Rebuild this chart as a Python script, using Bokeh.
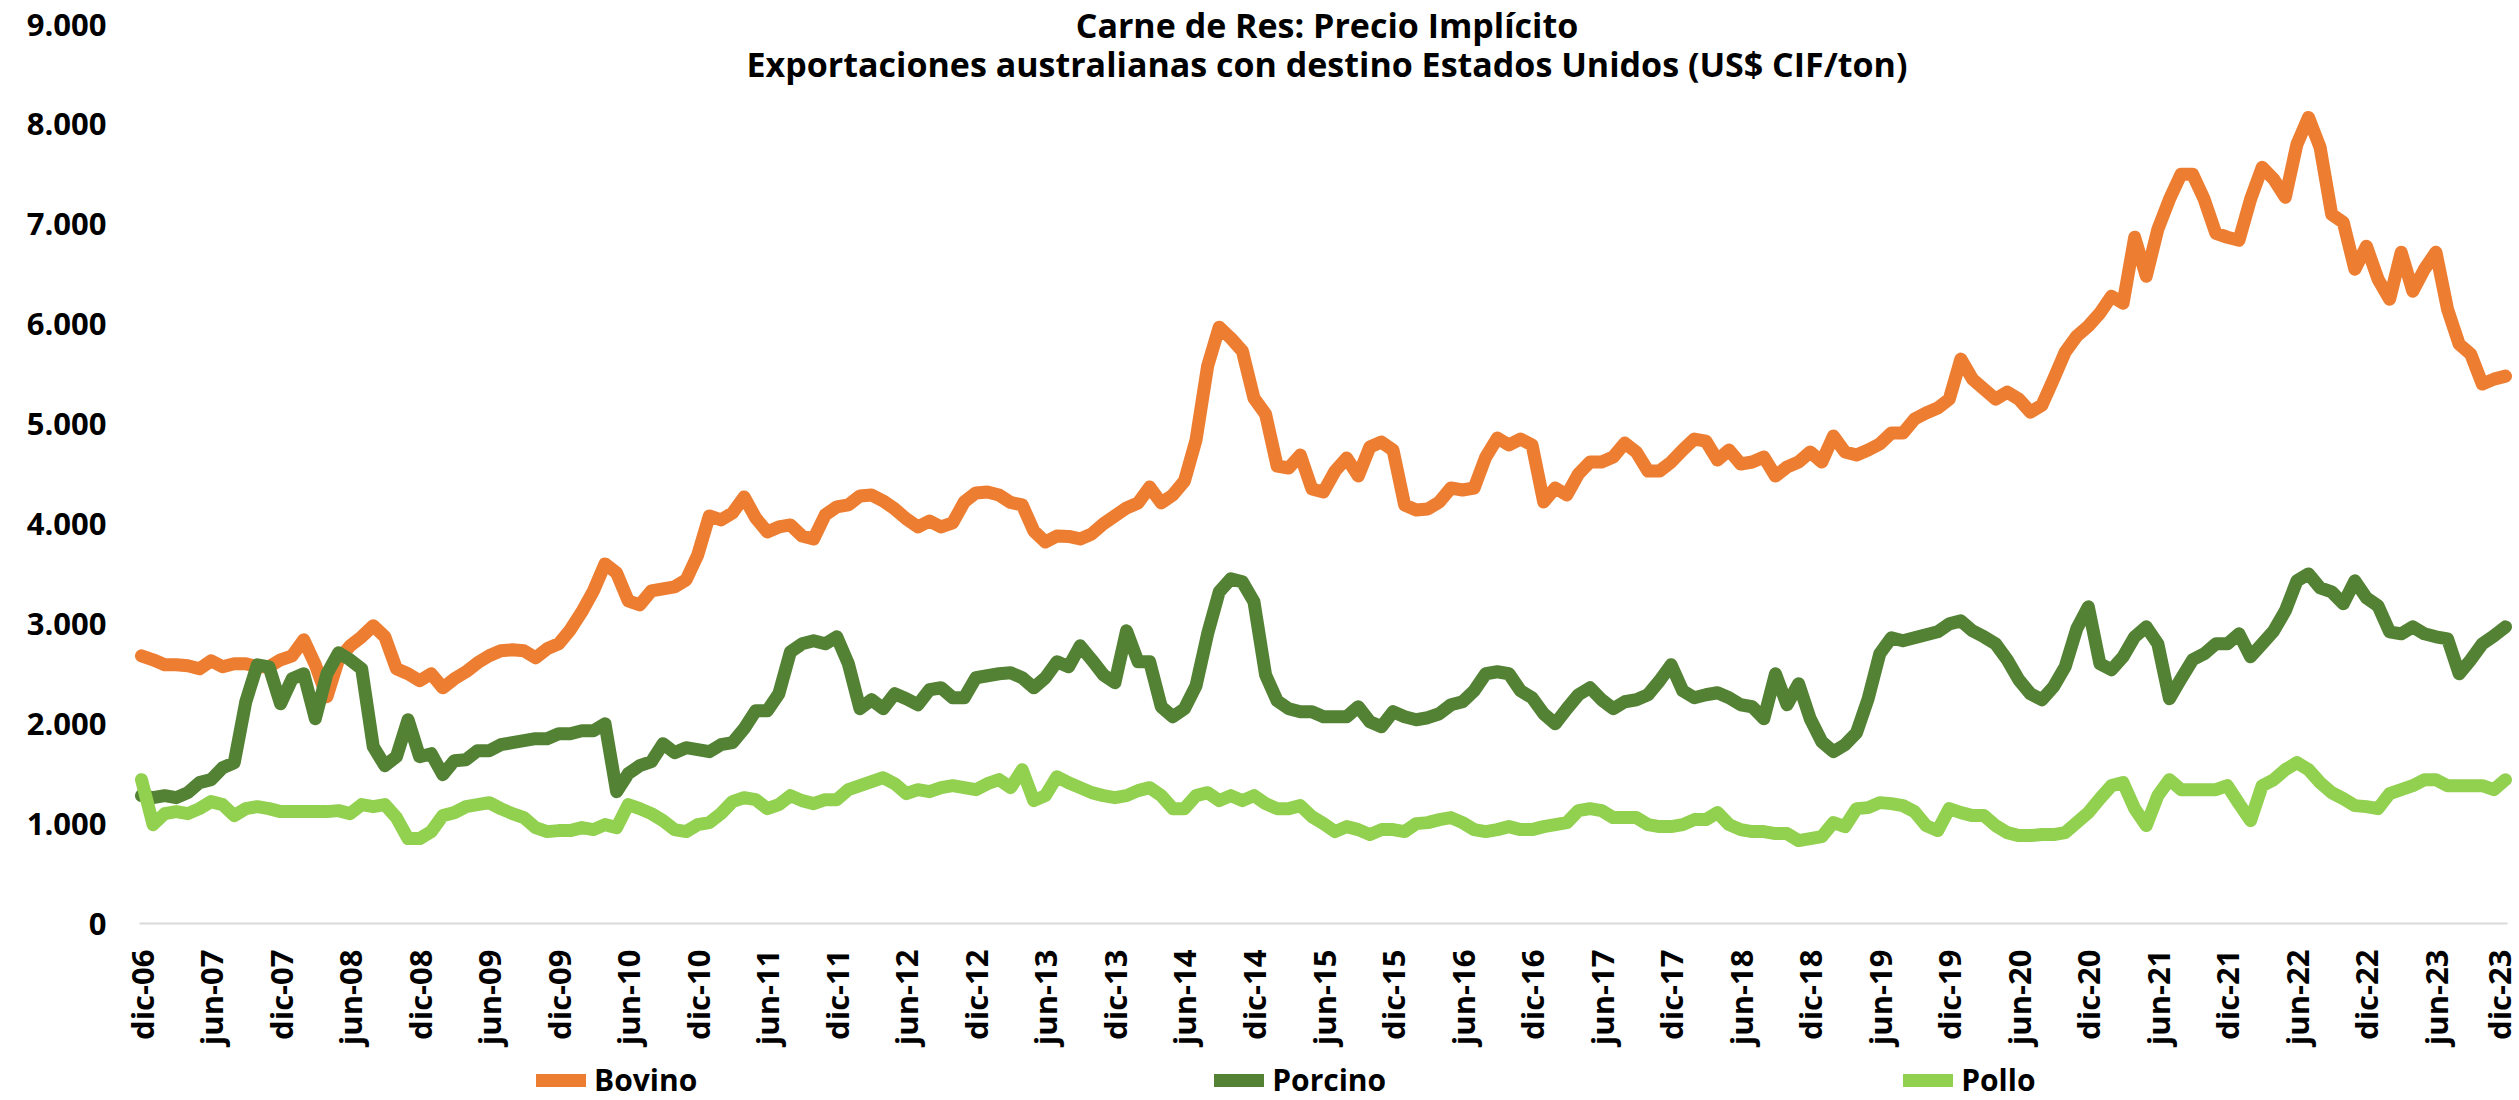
from math import pi
from bokeh.plotting import figure
from bokeh.models import (Range1d, FixedTicker, CustomJSTickFormatter, Legend,
                          LegendItem, Label)
from bokeh.embed import file_html
from bokeh.resources import INLINE

TITLE_1 = "Carne de Res: Precio Implícito"
TITLE_2 = "Exportaciones australianas con destino Estados Unidos (US$ CIF/ton)"

TICK_LABELS = ["dic-06", "jun-07", "dic-07", "jun-08", "dic-08", "jun-09", "dic-09",
               "jun-10", "dic-10", "jun-11", "dic-11", "jun-12", "dic-12", "jun-13",
               "dic-13", "jun-14", "dic-14", "jun-15", "dic-15", "jun-16", "dic-16",
               "jun-17", "dic-17", "jun-18", "dic-18", "jun-19", "dic-19", "jun-20",
               "dic-20", "jun-21", "dic-21", "jun-22", "dic-22", "jun-23", "dic-23"]

SERIES_NAMES = ["Bovino", "Porcino", "Pollo"]

BOVINO = [2680, 2640, 2590, 2590, 2580, 2550, 2630, 2570, 2600, 2600,
          2570, 2570, 2640, 2680, 2840, 2590, 2270, 2640, 2780, 2870,
          2980, 2870, 2550, 2500, 2430, 2500, 2360, 2450, 2520, 2610,
          2680, 2730, 2740, 2730, 2660, 2750, 2800, 2940, 3120, 3330,
          3600, 3510, 3230, 3190, 3330, 3350, 3370, 3440, 3690, 4080,
          4040, 4110, 4270, 4060, 3920, 3970, 3990, 3880, 3850, 4090,
          4170, 4190, 4280, 4290, 4230, 4150, 4050, 3970, 4030, 3970,
          4010, 4220, 4310, 4320, 4290, 4215, 4190, 3930, 3820, 3880,
          3875, 3850, 3900, 4000, 4080, 4160, 4210, 4370, 4210, 4290,
          4430, 4840, 5580, 5970, 5860, 5730, 5260, 5100, 4580, 4560,
          4690, 4350, 4320, 4530, 4660, 4480, 4770, 4820, 4740, 4190,
          4140, 4150, 4220, 4360, 4340, 4360, 4670, 4860, 4790, 4850,
          4790, 4220, 4360, 4290, 4500, 4620, 4620, 4670, 4810, 4720,
          4530, 4530, 4620, 4740, 4850, 4830, 4640, 4740, 4600, 4620,
          4670, 4480, 4570, 4620, 4720, 4620, 4880, 4720, 4690, 4740,
          4800, 4910, 4910, 5050, 5110, 5160, 5250, 5650, 5450, 5350,
          5250, 5320, 5250, 5120, 5190, 5450, 5720, 5880, 5980, 6110,
          6280, 6210, 6870, 6480, 6950, 7250, 7500, 7500, 7250, 6910,
          6870, 6840, 7250, 7570, 7450, 7270, 7800, 8070, 7770, 7100,
          7020, 6550, 6780, 6450, 6250, 6720, 6330, 6550, 6720, 6150,
          5800, 5700, 5400, 5450, 5480]

PORCINO = [1280, 1260, 1280, 1260, 1310, 1410, 1440, 1560, 1610, 2220,
           2590, 2570, 2200, 2450, 2500, 2050, 2500, 2710, 2640, 2550,
           1770, 1580, 1670, 2040, 1670, 1700, 1490, 1630, 1640, 1730,
           1730, 1790, 1810, 1830, 1850, 1850, 1900, 1900, 1930, 1930,
           2000, 1320, 1500, 1580, 1620, 1800, 1710, 1760, 1740, 1720,
           1790, 1810, 1950, 2130, 2130, 2300, 2720, 2800, 2830, 2800,
           2870, 2600, 2150, 2240, 2150, 2300, 2250, 2190, 2340, 2360,
           2260, 2260, 2460, 2480, 2500, 2510, 2460, 2360, 2460, 2620,
           2570, 2780, 2640, 2490, 2410, 2930, 2620, 2620, 2170, 2070,
           2150, 2380, 2900, 3320, 3450, 3420, 3220, 2490, 2230, 2150,
           2120, 2120, 2070, 2070, 2070, 2170, 2020, 1970, 2120, 2070,
           2040, 2060, 2100, 2190, 2220, 2330, 2500, 2520, 2500, 2330,
           2260, 2100, 2000, 2150, 2290, 2360, 2240, 2150, 2220, 2240,
           2290, 2430, 2590, 2330, 2260, 2290, 2310, 2260, 2190, 2170,
           2050, 2500, 2190, 2400, 2050, 1820, 1720, 1790, 1910, 2250,
           2700, 2860, 2830, 2860, 2890, 2920, 3000, 3030, 2930, 2870,
           2800, 2640, 2440, 2300, 2240, 2370, 2570, 2950, 3170, 2600,
           2540, 2670, 2870, 2970, 2800, 2250, 2450, 2640, 2700, 2800,
           2800, 2900, 2670, 2800, 2930, 3130, 3430, 3500, 3360, 3320,
           3200, 3430, 3260, 3180, 2920, 2900, 2970, 2900, 2870, 2850,
           2500, 2640, 2800, 2880, 2970]

POLLO = [1440, 990, 1100, 1120, 1100, 1150, 1220, 1190, 1080, 1150,
         1170, 1150, 1120, 1120, 1120, 1120, 1120, 1130, 1100, 1190,
         1170, 1190, 1060, 850, 850, 920, 1080, 1110, 1170, 1190,
         1210, 1150, 1100, 1060, 960, 920, 930, 930, 960, 940,
         990, 960, 1190, 1150, 1100, 1030, 940, 920, 990, 1010,
         1100, 1220, 1260, 1240, 1150, 1190, 1280, 1230, 1200, 1240,
         1240, 1340, 1380, 1420, 1460, 1400, 1300, 1340, 1320, 1360,
         1380, 1360, 1340, 1400, 1440, 1360, 1540, 1230, 1280, 1470,
         1410, 1360, 1310, 1280, 1260, 1280, 1330, 1360, 1280, 1150,
         1150, 1280, 1310, 1230, 1280, 1230, 1280, 1200, 1150, 1150,
         1180, 1070, 1000, 920, 970, 940, 890, 940, 940, 920,
         1000, 1010, 1040, 1060, 1010, 940, 920, 940, 970, 940,
         940, 970, 990, 1010, 1130, 1150, 1130, 1060, 1060, 1060,
         990, 970, 970, 990, 1040, 1040, 1110, 990, 940, 920,
         920, 900, 900, 830, 850, 870, 1010, 970, 1150, 1160,
         1210, 1200, 1180, 1120, 980, 930, 1150, 1110, 1080, 1080,
         980, 910, 880, 880, 890, 890, 910, 1010, 1110, 1250,
         1380, 1410, 1150, 980, 1280, 1440, 1340, 1340, 1340, 1340,
         1380, 1200, 1030, 1380, 1440, 1540, 1610, 1540, 1410, 1310,
         1250, 1180, 1170, 1150, 1300, 1340, 1380, 1440, 1440, 1380,
         1380, 1380, 1380, 1340, 1440]

MONTHS = list(range(len(BOVINO)))          # 0 = dic-06 ... 204 = dic-23
TICKS = [6 * k for k in range(len(TICK_LABELS))]
Y_TICKS = list(range(0, 9001, 1000))

COLORS = ["#ED7D31", "#548235", "#92D050"]
FONT = "Open Sans"

# The frame fills the canvas vertically (so nothing drawn in it is clipped);
# 9000 sits at y=24 px, 0 at y=923 px, labels and legend live below 0.
W, H = 2519, 1100
Y_MAX = 9000
PX_TOP, PX_ZERO = 24, 923
units_per_px = Y_MAX / (PX_ZERO - PX_TOP)
y_lo = -(H - PX_ZERO) * units_per_px
y_hi = Y_MAX + PX_TOP * units_per_px

# horizontal: first month at x=141 px, last at x=2505 px
FRAME_L = 118
PX_FIRST, PX_LAST = 141, 2505
months_per_px = (MONTHS[-1] - MONTHS[0]) / (PX_LAST - PX_FIRST)
x_lo = MONTHS[0] - (PX_FIRST - FRAME_L) * months_per_px
x_hi = MONTHS[-1] + (W - PX_LAST) * months_per_px

p = figure(width=W, height=H, output_backend="svg", toolbar_location=None,
           x_range=Range1d(x_lo, x_hi), y_range=Range1d(y_lo, y_hi),
           min_border_left=FRAME_L, min_border_right=0, min_border_top=0,
           min_border_bottom=0)
p.outline_line_color = None
p.xgrid.grid_line_color = None
p.ygrid.grid_line_color = None
p.background_fill_color = "white"

renderers = []
for ys, col in zip([BOVINO, PORCINO, POLLO], COLORS):
    r = p.line(MONTHS, ys, line_color=col, line_width=13,
               line_join="round", line_cap="round")
    renderers.append(r)

# x axis, pinned at value 0
xa = p.xaxis[0]
xa.fixed_location = 0
xa.bounds = (MONTHS[0] - 2 * months_per_px, MONTHS[-1] + 2 * months_per_px)
xa.ticker = FixedTicker(ticks=TICKS)
xa.major_label_overrides = {t: lab for t, lab in zip(TICKS, TICK_LABELS)}
xa.major_label_orientation = pi / 2
xa.axis_line_color = "#D9D9D9"
xa.axis_line_width = 2
xa.major_tick_line_color = None
xa.minor_tick_line_color = None
xa.major_tick_out = 0
xa.major_tick_in = 0
xa.major_label_standoff = 26
xa.major_label_text_font = FONT
xa.major_label_text_font_style = "bold"
xa.major_label_text_font_size = "31px"
xa.major_label_text_color = "black"

# y axis
ya = p.yaxis[0]
ya.ticker = FixedTicker(ticks=Y_TICKS)
ya.formatter = CustomJSTickFormatter(code="""
    var s = Math.round(tick).toString();
    return s.replace(/\\B(?=(\\d{3})+(?!\\d))/g, '.');
""")
ya.axis_line_color = None
ya.major_tick_line_color = None
ya.minor_tick_line_color = None
ya.major_tick_out = 0
ya.major_tick_in = 0
ya.major_label_standoff = 12
ya.major_label_text_font = FONT
ya.major_label_text_font_style = "bold"
ya.major_label_text_font_size = "31px"
ya.major_label_text_color = "black"

# title (drawn over the top of the plot area, as in the reference)
xc = (MONTHS[0] + MONTHS[-1]) / 2 + 0.3
for txt, px in [(TITLE_1, 24), (TITLE_2, 63)]:
    p.add_layout(Label(x=xc, y=Y_MAX + (PX_TOP - px) * units_per_px, text=txt,
                       text_align="center", text_baseline="middle",
                       text_font=FONT, text_font_style="bold",
                       text_font_size="34px", text_color="black"))

legend = Legend(items=[LegendItem(label=n, renderers=[r])
                       for n, r in zip(SERIES_NAMES, renderers)],
                orientation="horizontal", location=(536 - FRAME_L, 0),
                glyph_width=50, glyph_height=26, label_height=26,
                label_standoff=8, spacing=517, padding=0, margin=0,
                border_line_color=None, background_fill_alpha=0,
                label_text_font=FONT, label_text_font_style="bold",
                label_text_font_size="30px", label_text_color="black")
p.add_layout(legend)

open("out.html", "w").write(file_html(p, INLINE))
